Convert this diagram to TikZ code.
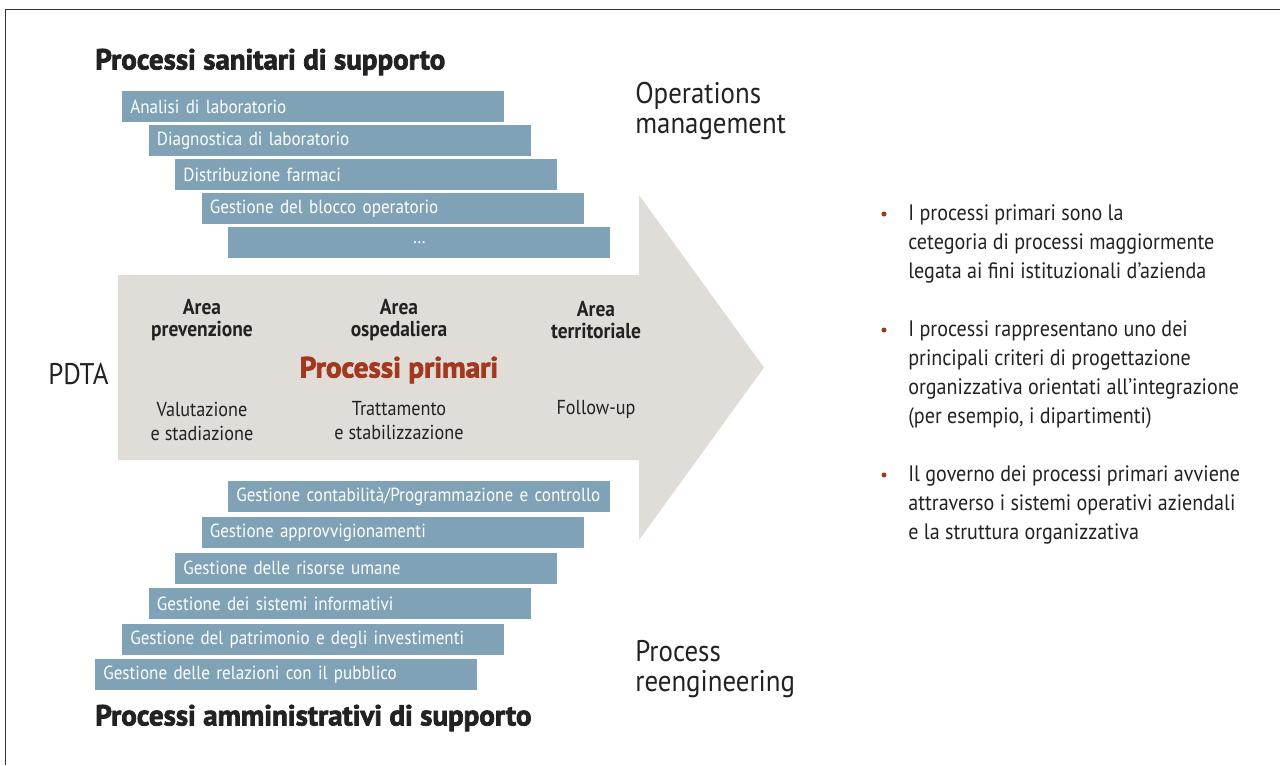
\documentclass[tikz,border=0pt]{standalone}
\usepackage{fontspec}
\setmainfont{PT Sans}[FakeStretch=0.9]
\newfontfamily\blackfont{PT Sans}[FakeBold=2.5]
\usepackage{xcolor}
\usepackage{tikz}
\usetikzlibrary{positioning}
\definecolor{barblue}{HTML}{7FA2B6}
\definecolor{arrowgrey}{HTML}{E0DDD8}
\definecolor{primred}{HTML}{A3381F}
\definecolor{inkgrey}{HTML}{222222}
\definecolor{framegrey}{HTML}{333333}

\begin{document}
\begin{tikzpicture}[x=0.02cm, y=-0.02cm,
  bar/.style={fill=barblue, text=white, anchor=north west, minimum height=0.62cm,
    inner xsep=0.16cm, inner ysep=0pt, text width=7.32cm, align=left,
    font=\fontsize{10.8}{12}\selectfont},
  title/.style={anchor=west, inner sep=0pt, text=inkgrey, font=\blackfont\bfseries\fontsize{16.5}{18}\selectfont},
  side/.style={anchor=west, inner sep=0pt, align=left, text=inkgrey, font=\fontsize{17}{17.2}\selectfont},
  area/.style={inner sep=0pt, align=center, text=inkgrey, font=\bfseries\fontsize{12.3}{12.8}\selectfont},
  phase/.style={inner sep=0pt, align=center, text=inkgrey, font=\fontsize{11.5}{13.7}\selectfont},
  note/.style={anchor=west, inner sep=0pt, align=left, text=inkgrey, font=\fontsize{12.7}{16.5}\selectfont},
  dot/.style={circle, fill=primred, inner sep=0pt, minimum size=0.1cm},
]
\useasboundingbox (0,0) rectangle (1280,765);
\draw[framegrey, line width=1pt] (5.5,765) -- (5.5,9.5) -- (1280,9.5);

% Processi primari: freccia
\fill[arrowgrey] (118,275) -- (639,275) -- (639,195) -- (764,367.5)
  -- (639,540) -- (639,460) -- (118,460) -- cycle;

% Processi sanitari di supporto
\node[title] (top) at (95,62) {Processi sanitari di supporto};
\node[bar] (s1) at (122,91) {Analisi di laboratorio};
\node[bar] (s2) at (148.5,125) {Diagnostica di laboratorio};
\node[bar] (s3) at (175,159) {Distribuzione farmaci};
\node[bar] (s4) at (201.5,193) {Gestione del blocco operatorio};
\node[bar, align=center] (s5) at (228,227) {\dots};

\node[side] (ops) at (635,111) {Operations\\management};

% Aree della freccia
\node[area] (a1) at (202,320) {Area\\prevenzione};
\node[area] (a2) at (399,320) {Area\\ospedaliera};
\node[area] (a3) at (596,320) {Area\\territoriale};
\node[inner sep=0pt, text=primred, font=\blackfont\bfseries\fontsize{16.6}{18}\selectfont] (prim) at (399,370) {Processi primari};
\node[phase] (f1) at (202,421) {Valutazione\\e stadiazione};
\node[phase] (f2) at (399,421) {Trattamento\\e stabilizzazione};
\node[phase] (f3) at (596,409) {Follow-up};

\node[side] (pdta) at (48,374) {PDTA};

% Processi amministrativi di supporto
\node[bar] (m1) at (228,481) {Gestione contabilità/Programmazione e controllo};
\node[bar] (m2) at (201.5,516.6) {Gestione approvvigionamenti};
\node[bar] (m3) at (175,552.2) {Gestione delle risorse umane};
\node[bar] (m4) at (148.5,587.8) {Gestione dei sistemi informativi};
\node[bar] (m5) at (122,623.4) {Gestione del patrimonio e degli investimenti};
\node[bar] (m6) at (95,659) {Gestione delle relazioni con il pubblico};
\node[title] (bot) at (95,718) {Processi amministrativi di supporto};

\node[side] (reeng) at (635,669) {Process\\reengineering};

% Note a destra
\node[note] (n1) at (908,244) {I processi primari sono la\\cetegoria di processi maggiormente\\legata ai fini istituzionali d’azienda};
\node[note] (n2) at (908,374.5) {I processi rappresentano uno dei\\principali criteri di progettazione\\organizzativa orientati all’integrazione\\(per esempio, i dipartimenti)};
\node[note] (n3) at (908,505) {Il governo dei processi primari avviene\\attraverso i sistemi operativi aziendali\\e la struttura organizzativa};
\node[dot] (d1) at (884,214) {};
\node[dot] (d2) at (884,330) {};
\node[dot] (d3) at (884,475) {};
\end{tikzpicture}
\end{document}
